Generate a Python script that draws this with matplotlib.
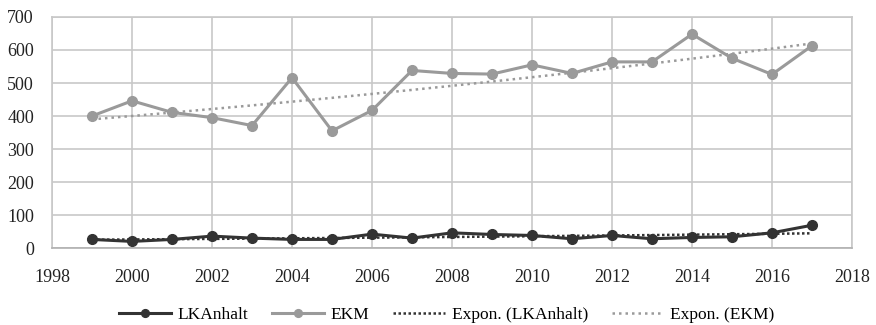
import matplotlib.pyplot as plt
import numpy as np

plt.rcParams["font.family"] = ["Liberation Serif", "DejaVu Serif"]

years = np.arange(1999, 2018)
lk_anhalt = [26, 20, 26, 36, 30, 26, 26, 42, 30, 46, 41, 38, 28, 38, 28, 32, 34, 46, 69]
ekm = [400, 446, 411, 395, 371, 516, 355, 417, 538, 529, 527, 555, 529, 564, 564, 648, 575, 526, 613]

x_ticks = np.arange(1998, 2019, 2)
y_ticks = np.arange(0, 701, 100)

DARK = "#333333"
LIGHT = "#9a9a9a"


def _expon_fit(x, y):
    # exponential trendline like the spreadsheet one: ln(y) = a + b x
    b, a = np.polyfit(x, np.log(y), 1)
    return np.exp(a + b * x)


fig = plt.figure(figsize=(8.76, 3.25), dpi=100)
ax = fig.add_axes([0.0594, 0.2369, 0.9132, 0.7108])

ax.plot(years, lk_anhalt, color=DARK, linewidth=2.2, marker="o", markersize=7,
        label="LKAnhalt", zorder=4)
ax.plot(years, ekm, color=LIGHT, linewidth=2.2, marker="o", markersize=7,
        label="EKM", zorder=3)
ax.plot(years, _expon_fit(years, lk_anhalt), color=DARK, linewidth=1.8,
        linestyle=(0, (1, 1)), label="Expon. (LKAnhalt)", zorder=5)
ax.plot(years, _expon_fit(years, ekm), color=LIGHT, linewidth=1.8,
        linestyle=(0, (1, 1.6)), label="Expon. (EKM)", zorder=2)

ax.set_xlim(1998, 2018)
ax.set_ylim(0, 700)
ax.set_xticks(x_ticks)
ax.set_yticks(y_ticks)
ax.grid(True, color="#c8c8c8", linewidth=1.2)
ax.set_axisbelow(True)
for side in ["top", "right", "left"]:
    ax.spines[side].set_color("#c8c8c8")
    ax.spines[side].set_linewidth(1.2)
ax.spines["bottom"].set_color("#b0b0b0")
ax.spines["bottom"].set_linewidth(1.2)
ax.tick_params(length=0, labelsize=13, colors="#222222")
ax.tick_params(axis="x", pad=15)
ax.tick_params(axis="y", pad=13)

fig.legend(loc="center", bbox_to_anchor=(0.51, 0.03), ncol=4, frameon=False,
           prop={"size": 12.5}, handlelength=3.0, markerscale=0.8,
           columnspacing=1.4, handletextpad=0.35)

fig.savefig("out.png", dpi=100)
